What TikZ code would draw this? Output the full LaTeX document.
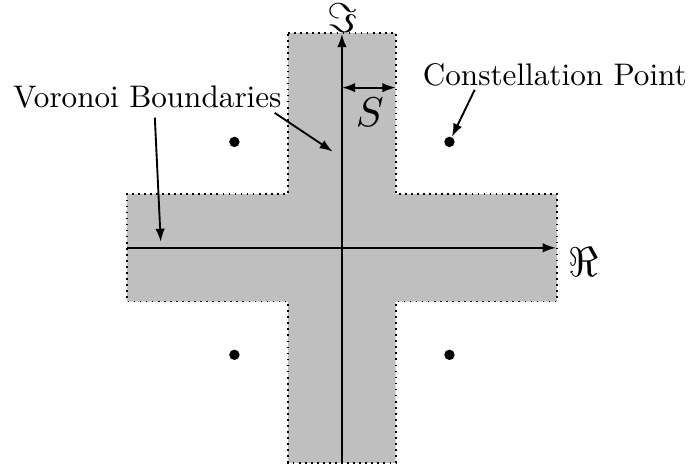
\documentclass[tikz,border=0pt]{standalone}
\usepackage{amsmath}
\usepackage{amssymb}
\usetikzlibrary{arrows.meta, positioning}

\begin{document}
\begin{tikzpicture}[
    label/.style={scale=1.65,inner sep=0pt},
    mathlabel/.style={scale=2.2,inner sep=0pt},
    region/.style={fill=black!25,draw,line width=0.9pt,dash pattern=on 0.9pt off 2.3pt},
    axis/.style={-{Latex[length=7pt,width=5pt]}, line width=1pt},
    arrow/.style={-{Latex[length=7pt,width=5pt]}, line width=1pt},
    point/.style={circle,fill,inner sep=0pt,minimum size=5.5pt}
]
\useasboundingbox (-6.36,-4.15) rectangle (6.53,4.61);
\draw[region] (-1,4) -- (1,4) -- (1,1) -- (4,1) -- (4,-1) -- (1,-1) -- (1,-4) -- (-1,-4)
    -- (-1,-1) -- (-4,-1) -- (-4,1) -- (-1,1) -- cycle;
\coordinate (west) at (-4,0);
\coordinate (east) at (3.98,0);
\coordinate (south) at (0,-4);
\coordinate (north) at (0,3.98);
\draw[axis] (west) -- (east);
\draw[axis] (south) -- (north);
\node[mathlabel] (re) at (4.5,-0.27) {$\Re$};
\node[mathlabel] (im) at (0.02,4.28) {$\Im$};
% half width of the boundary strip
\coordinate (s0) at (0,2.98);
\coordinate (s1) at (1,2.98);
\draw[arrow,{Latex[length=7pt,width=5pt]}-{Latex[length=7pt,width=5pt]}] (s0) -- (s1);
\node[mathlabel] (s) at (0.52,2.53) {$S$};
% constellation points
\node[point] (p1) at (-2,1.97) {};
\node[point] (p2) at (2,1.97) {};
\node[point] (p3) at (-2,-1.99) {};
\node[point] (p4) at (2,-1.99) {};
\node[label] (vor) at (-3.62,2.81) {Voronoi Boundaries};
\node[label] (con) at (3.96,3.22) {Constellation Point};
\coordinate (v1) at (-3.48,2.42);
\coordinate (v2) at (-1.25,2.51);
\coordinate (c1) at (2.47,2.94);
\draw[arrow] (v1) -- (-3.37,0.11);
\draw[arrow] (v2) -- (-0.17,1.79);
\draw[arrow] (c1) -- (p2);
\end{tikzpicture}
\end{document}
